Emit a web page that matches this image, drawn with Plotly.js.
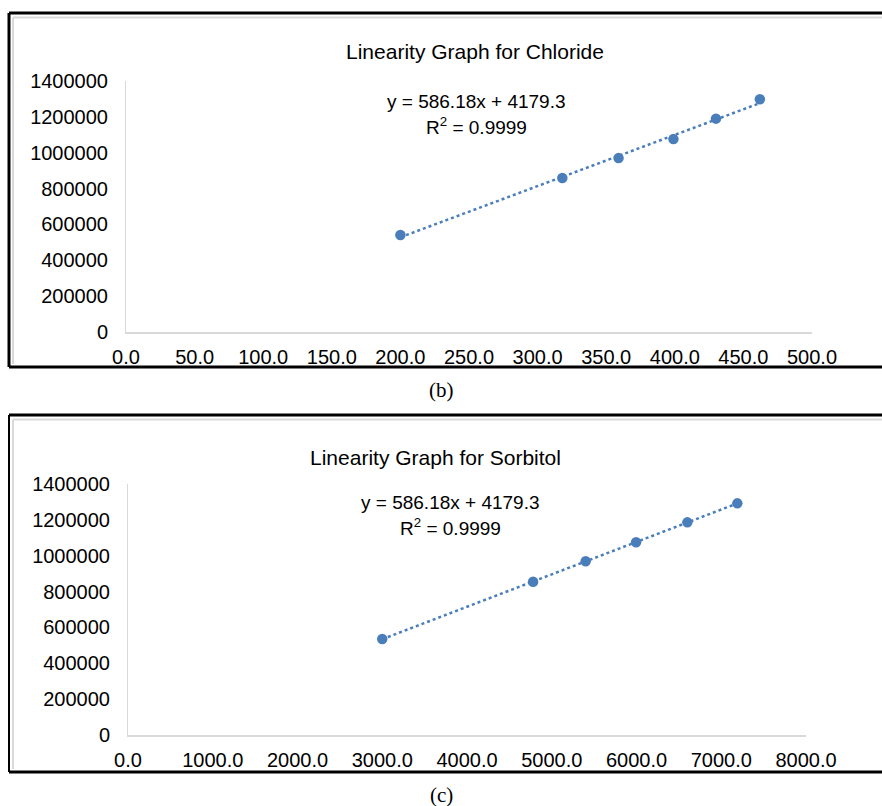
<!DOCTYPE html>
<html>
<head>
<meta charset="utf-8">
<script src="https://cdn.plot.ly/plotly-3.0.1.min.js"></script>
<style>
  html, body { margin: 0; padding: 0; background: #ffffff; }
  #chart { width: 882px; height: 806px; }
</style>
</head>
<body>
<div id="chart"></div>
<script>
// ---- Data ----
const chlorideX = [200, 318, 359, 399, 430, 462];
const chlorideY = [541000, 859000, 970000, 1076000, 1190000, 1298000];
const sorbitolX = [3000, 4780, 5400, 5995, 6600, 7190];
const sorbitolY = [535000, 855000, 969000, 1075000, 1186000, 1292000];

const titleB = "Linearity Graph for Chloride";
const titleC = "Linearity Graph for Sorbitol";
const equationText = "y = 586.18x + 4179.3";
const r2Text = "R<sup>2</sup> = 0.9999";
const captionB = "(b)";
const captionC = "(c)";

// ---- helpers ----
const W = 882, H = 806;
const px = v => v / W;
const py = v => 1 - v / H;

function fitLine(xs, ys) {
  const n = xs.length;
  const mx = xs.reduce((a, b) => a + b, 0) / n;
  const my = ys.reduce((a, b) => a + b, 0) / n;
  let sxy = 0, sxx = 0;
  for (let i = 0; i < n; i++) { sxy += (xs[i] - mx) * (ys[i] - my); sxx += (xs[i] - mx) ** 2; }
  const m = sxy / sxx, b = my - m * mx;
  const x0 = Math.min(...xs), x1 = Math.max(...xs);
  return { x: [x0, x1], y: [m * x0 + b, m * x1 + b] };
}

const blue = "#4A7EBB";
const fitB = fitLine(chlorideX, chlorideY);
const fitC = fitLine(sorbitolX, sorbitolY);

const traces = [
  { x: fitB.x, y: fitB.y, xaxis: "x", yaxis: "y", mode: "lines",
    line: { color: blue, width: 2.5, dash: "dot" }, hoverinfo: "skip" },
  { x: chlorideX, y: chlorideY, xaxis: "x", yaxis: "y", mode: "markers",
    marker: { color: blue, size: 10.5 } },
  { x: fitC.x, y: fitC.y, xaxis: "x2", yaxis: "y2", mode: "lines",
    line: { color: blue, width: 2.5, dash: "dot" }, hoverinfo: "skip" },
  { x: sorbitolX, y: sorbitolY, xaxis: "x2", yaxis: "y2", mode: "markers",
    marker: { color: blue, size: 10.5 } }
];

const tickFont = { family: "Liberation Sans, Arial, sans-serif", size: 20, color: "#000000" };
const axisColor = "#d9d9d9";

function xAxis(domain, anchor, max, dtick) {
  return {
    domain: domain, anchor: anchor, range: [0, max], dtick: dtick, tick0: 0,
    tickformat: ".1f", showgrid: false, zeroline: false,
    showline: true, linecolor: axisColor, linewidth: 2,
    ticks: "", tickfont: tickFont, ticklabelstandoff: 6, fixedrange: true
  };
}
function yAxis(domain, anchor) {
  return {
    domain: domain, anchor: anchor, range: [0, 1400000], dtick: 200000, tick0: 0,
    tickformat: "d", showgrid: false, zeroline: false,
    showline: true, linecolor: axisColor, linewidth: 1,
    ticks: "", tickfont: tickFont, ticklabelstandoff: 13, fixedrange: true
  };
}

const sans = "Liberation Sans, Arial, sans-serif";
const serif = "Liberation Serif, DejaVu Serif, serif";

const layout = {
  width: W, height: H,
  margin: { l: 0, r: 0, t: 0, b: 0, pad: 0 },
  paper_bgcolor: "#ffffff", plot_bgcolor: "rgba(0,0,0,0)",
  showlegend: false,
  xaxis: xAxis([px(126), px(812)], "y", 500, 50),
  yaxis: yAxis([py(332), py(81)], "x"),
  xaxis2: xAxis([px(128), px(806)], "y2", 8000, 1000),
  yaxis2: yAxis([py(735), py(484)], "x2"),
  annotations: [
    { text: titleB, x: px(475), y: py(52), xref: "paper", yref: "paper", showarrow: false,
      xanchor: "center", yanchor: "middle", font: { family: sans, size: 21, color: "#000" } },
    { text: equationText, x: px(476), y: py(101), xref: "paper", yref: "paper", showarrow: false,
      xanchor: "center", yanchor: "middle", font: { family: sans, size: 19, color: "#000" } },
    { text: r2Text, x: px(476), y: py(126), xref: "paper", yref: "paper", showarrow: false,
      xanchor: "center", yanchor: "middle", font: { family: sans, size: 19, color: "#000" } },
    { text: captionB, x: px(441), y: py(390), xref: "paper", yref: "paper", showarrow: false,
      xanchor: "center", yanchor: "middle", font: { family: serif, size: 21, color: "#000" } },

    { text: titleC, x: px(435), y: py(457), xref: "paper", yref: "paper", showarrow: false,
      xanchor: "center", yanchor: "middle", font: { family: sans, size: 21, color: "#000" } },
    { text: equationText, x: px(450), y: py(503), xref: "paper", yref: "paper", showarrow: false,
      xanchor: "center", yanchor: "middle", font: { family: sans, size: 19, color: "#000" } },
    { text: r2Text, x: px(450), y: py(527), xref: "paper", yref: "paper", showarrow: false,
      xanchor: "center", yanchor: "middle", font: { family: sans, size: 19, color: "#000" } },
    { text: captionC, x: px(441), y: py(795), xref: "paper", yref: "paper", showarrow: false,
      xanchor: "center", yanchor: "middle", font: { family: serif, size: 21, color: "#000" } }
  ],
  shapes: [
    // chart (b) frame
    { type: "line", xref: "paper", yref: "paper", x0: px(9), x1: 1, y0: py(13), y1: py(13), line: { color: "#000", width: 3 } },
    { type: "line", xref: "paper", yref: "paper", x0: px(9), x1: px(9), y0: py(13), y1: py(367), line: { color: "#000", width: 3 } },
    { type: "line", xref: "paper", yref: "paper", x0: px(9), x1: 1, y0: py(367), y1: py(367), line: { color: "#000", width: 3 } },
    { type: "line", xref: "paper", yref: "paper", x0: px(13), x1: 1, y0: py(17.5), y1: py(17.5), line: { color: "#d9d9d9", width: 2 } },
    { type: "line", xref: "paper", yref: "paper", x0: px(13), x1: px(13), y0: py(17.5), y1: py(364), line: { color: "#d9d9d9", width: 2 } },
    // chart (c) frame
    { type: "line", xref: "paper", yref: "paper", x0: px(9), x1: 1, y0: py(415), y1: py(415), line: { color: "#000", width: 3 } },
    { type: "line", xref: "paper", yref: "paper", x0: px(9), x1: px(9), y0: py(415), y1: py(772), line: { color: "#000", width: 2 } },
    { type: "line", xref: "paper", yref: "paper", x0: px(9), x1: 1, y0: py(772), y1: py(772), line: { color: "#000", width: 3 } },
    { type: "line", xref: "paper", yref: "paper", x0: px(13), x1: 1, y0: py(419.5), y1: py(419.5), line: { color: "#d9d9d9", width: 2 } },
    { type: "line", xref: "paper", yref: "paper", x0: px(13), x1: px(13), y0: py(419.5), y1: py(769), line: { color: "#d9d9d9", width: 2 } }
  ]
};

Plotly.newPlot("chart", traces, layout, { displayModeBar: false, staticPlot: true });
</script>
</body>
</html>
